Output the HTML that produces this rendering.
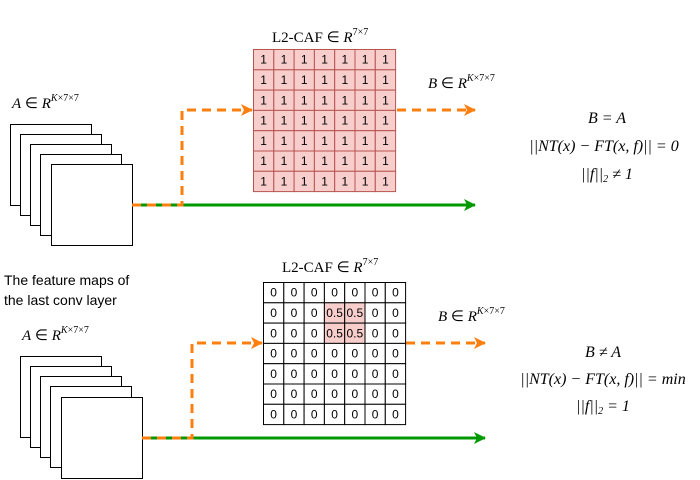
<!DOCTYPE html>
<html><head><meta charset="utf-8"><style>body{margin:0;background:#fff}svg{display:block}
.m{font-family:"Liberation Serif",serif;font-size:15px}
.e{font-family:"Liberation Serif",serif;font-size:16px}
.c{font-family:"Liberation Sans",sans-serif;font-size:12px}</style></head><body>
<svg width="700" height="480" xmlns="http://www.w3.org/2000/svg">
<defs>
<marker id="ao" markerWidth="12" markerHeight="12" refX="11" refY="6" orient="auto" markerUnits="userSpaceOnUse"><path d="M0,0 L12,6 L0,12 L3,6 Z" fill="#ff7f0e"/></marker>
<marker id="ag" markerWidth="12" markerHeight="12" refX="11" refY="6" orient="auto" markerUnits="userSpaceOnUse"><path d="M0,0 L12,6 L0,12 L3,6 Z" fill="#009900"/></marker>
</defs>
<g fill="#fff" stroke="#000" stroke-width="1">
<rect x="10.5" y="124.5" width="81" height="81"/><rect x="20.5" y="134.5" width="81" height="81"/><rect x="30.5" y="144.5" width="81" height="81"/><rect x="40.5" y="154.5" width="81" height="81"/><rect x="51.5" y="164.5" width="81" height="81"/>
</g>
<text x="12" y="108" class="m"><tspan font-style="italic">A</tspan> ∈ <tspan font-style="italic">R</tspan><tspan font-size="10" dy="-7" font-style="italic">K</tspan><tspan font-size="10">×7×7</tspan></text>
<line x1="132" y1="205" x2="475" y2="205" stroke="#009900" stroke-width="3" marker-end="url(#ag)"/>
<polyline points="132,205 182,205 182,110 252,110" fill="none" stroke="#ff7f0e" stroke-width="3" stroke-dasharray="9,6" marker-end="url(#ao)"/>
<line x1="397" y1="110" x2="475" y2="110" stroke="#ff7f0e" stroke-width="3" stroke-dasharray="9,6" marker-end="url(#ao)"/>
<text x="428" y="88" class="m"><tspan font-style="italic">B</tspan> ∈ <tspan font-style="italic">R</tspan><tspan font-size="10" dy="-7" font-style="italic">K</tspan><tspan font-size="10">×7×7</tspan></text>
<text x="272" y="42" class="m">L2-CAF ∈ <tspan font-style="italic">R</tspan><tspan font-size="10" dy="-7">7×7</tspan></text>
<g id="tg"></g>
<text x="4" y="285" font-family="Liberation Sans,sans-serif" font-size="14">The feature maps of</text>
<text x="4" y="305" font-family="Liberation Sans,sans-serif" font-size="14">the last conv layer</text>
<text x="22" y="340" class="m"><tspan font-style="italic">A</tspan> ∈ <tspan font-style="italic">R</tspan><tspan font-size="10" dy="-7" font-style="italic">K</tspan><tspan font-size="10">×7×7</tspan></text>
<g fill="#fff" stroke="#000" stroke-width="1">
<rect x="20.5" y="356.5" width="81" height="81"/><rect x="30.5" y="366.5" width="81" height="81"/><rect x="40.5" y="376.5" width="81" height="81"/><rect x="50.5" y="386.5" width="81" height="81"/><rect x="61.5" y="397.5" width="81" height="81"/>
</g>
<line x1="142" y1="438" x2="485" y2="438" stroke="#009900" stroke-width="3" marker-end="url(#ag)"/>
<polyline points="142,438 192,438 192,343 262,343" fill="none" stroke="#ff7f0e" stroke-width="3" stroke-dasharray="9,6" marker-end="url(#ao)"/>
<line x1="406" y1="343" x2="485" y2="343" stroke="#ff7f0e" stroke-width="3" stroke-dasharray="9,6" marker-end="url(#ao)"/>
<text x="438" y="321" class="m"><tspan font-style="italic">B</tspan> ∈ <tspan font-style="italic">R</tspan><tspan font-size="10" dy="-7" font-style="italic">K</tspan><tspan font-size="10">×7×7</tspan></text>
<text x="282" y="272" class="m">L2-CAF ∈ <tspan font-style="italic">R</tspan><tspan font-size="10" dy="-7">7×7</tspan></text>
<g id="bg"></g>
<g class="e" text-anchor="middle" font-style="italic">
<text x="607" y="123">B = A</text>
<text x="604" y="151">||NT(x) − FT(x, f)|| = 0</text>
<text x="607" y="179">||f||<tspan font-size="10" dy="3">2</tspan><tspan dy="-3"> ≠ 1</tspan></text>
<text x="603" y="357">B ≠ A</text>
<text x="603" y="384">||NT(x) − FT(x, f)|| = min</text>
<text x="603" y="411">||f||<tspan font-size="10" dy="3">2</tspan><tspan dy="-3"> = 1</tspan></text>
</g>
</svg>
<script>
var ns="http://www.w3.org/2000/svg";
function grid(id,x0,y0,sz,val,fill,stroke){var g=document.getElementById(id);
for(var r=0;r<7;r++)for(var c=0;c<7;c++){var v=val(r,c),f=fill(r,c);
var rc=document.createElementNS(ns,"rect");rc.setAttribute("x",x0+c*sz);rc.setAttribute("y",y0+r*sz);rc.setAttribute("width",sz);rc.setAttribute("height",sz);
rc.setAttribute("fill",f);rc.setAttribute("stroke",stroke(r,c));g.appendChild(rc);
var t=document.createElementNS(ns,"text");t.setAttribute("x",x0+c*sz+sz/2);t.setAttribute("y",y0+r*sz+sz/2+4);t.setAttribute("text-anchor","middle");t.setAttribute("class","c");t.textContent=v;g.appendChild(t);}}
grid("tg",253.5,49.5,20.3,function(){return "1"},function(){return "#f8cecc"},function(){return "#b85450"});
function ctr(r,c){return (r==1||r==2)&&(c==3||c==4);}
grid("bg",263.5,282.5,20.3,function(r,c){return ctr(r,c)?"0.5":"0"},function(r,c){return ctr(r,c)?"#f8cecc":"#fff"},function(){return "#000"});
</script>
</body></html>
